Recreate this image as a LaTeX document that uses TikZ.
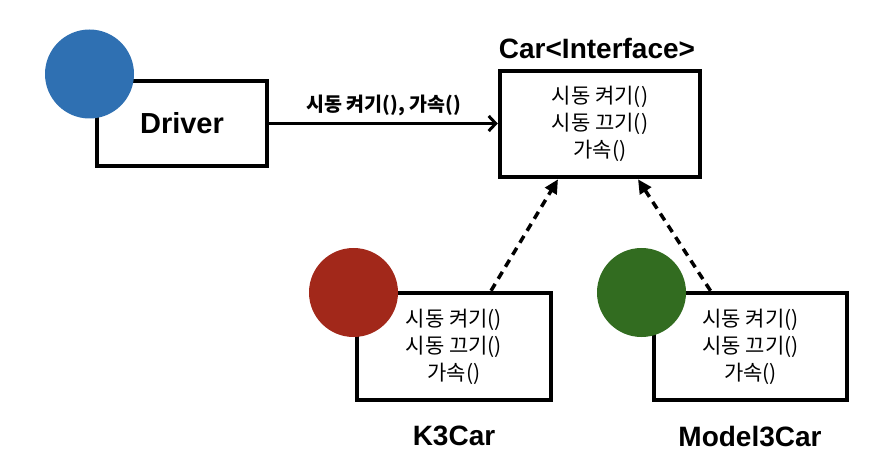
\documentclass[tikz,border=0pt]{standalone}
\usepackage{fontspec}
\setmainfont{Liberation Sans}
\newfontfamily\kr{Noto Sans CJK KR}
\usetikzlibrary{arrows.meta}
\definecolor{cblue}{RGB}{47,112,178}
\definecolor{cred}{RGB}{162,40,26}
\definecolor{cgreen}{RGB}{50,108,32}
\tikzset{
  box/.style={draw=black, line width=4.5pt, fill=white, inner sep=0pt, align=center,
    font={\kr\fontsize{21}{27}\selectfont}},
  dot/.style={circle, minimum size=89pt, inner sep=0pt},
  title/.style={font={\bfseries\fontsize{28}{32}\selectfont}},
  solidarrow/.style={line width=3pt, -{Straight Barb[length=7pt,width=15pt,line width=3pt]}},
  dasharrow/.style={line width=3.5pt, dash pattern=on 8pt off 6pt, -{Triangle[length=14pt,width=13pt]}},
}
\begin{document}
\begin{tikzpicture}[x=1pt,y=-1pt]
\useasboundingbox (0,0) rectangle (888,470);
% boxes
\node[box, minimum width=170pt, minimum height=85pt, font={\bfseries\fontsize{29}{32}\selectfont}] (driver) at (182,123.5) {Driver};
\node[box, minimum width=200pt, minimum height=106pt] (car) at (600,124) {시동 켜기()\\시동 끄기()\\가속()};
\node[box, minimum width=194pt, minimum height=107pt] (k3) at (454,346.5) {시동 켜기()\\시동 끄기()\\가속()};
\node[box, minimum width=193pt, minimum height=107pt] (m3) at (750.5,346.5) {시동 켜기()\\시동 끄기()\\가속()};
% circles
\node[dot, fill=cblue] (bluedot) at (89.5,74) {};
\node[dot, fill=cred] (reddot) at (353.5,292.5) {};
\node[dot, fill=cgreen] (greendot) at (641.5,292.5) {};
% titles
\node[title] (cartitle) at (597,48) {Car<Interface>};
\node[title] (k3title) at (454,436) {K3Car};
\node[title] (m3title) at (750,437) {Model3Car};
% connectors
\draw[solidarrow] (driver.east) -- node[above=3pt, font={\kr\bfseries\fontsize{19.5}{21}\selectfont}] (calllabel) {시동 켜기(), 가속()} (driver.east -| car.west);
\draw[dasharrow] ([xshift=37pt]k3.north) -- ([xshift=-42pt]car.south);
\draw[dasharrow] ([xshift=-40pt]m3.north) -- ([xshift=38pt]car.south);
\end{tikzpicture}
\end{document}
